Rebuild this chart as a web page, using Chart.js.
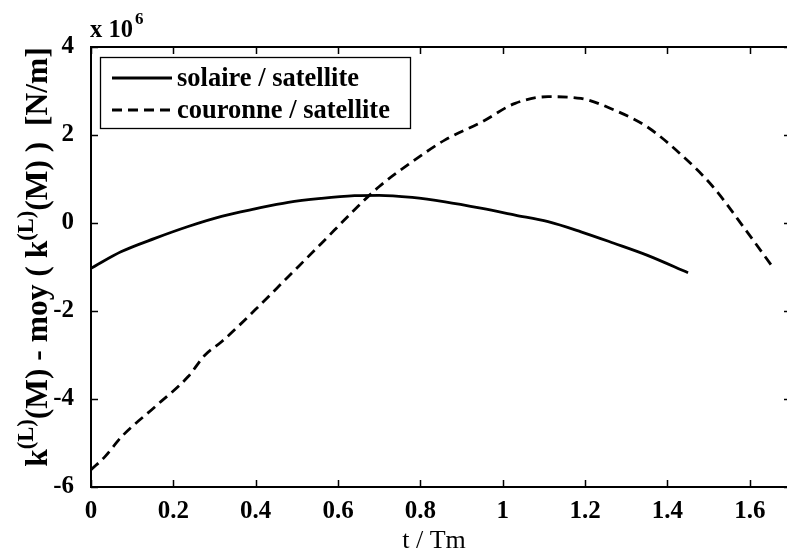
<!DOCTYPE html>
<html><head><meta charset="utf-8">
<script src="https://cdn.jsdelivr.net/npm/chart.js@4/dist/chart.umd.min.js"></script>
<style>html,body{margin:0;padding:0;background:#fff;overflow:hidden;width:787px;height:553px}</style>
</head><body>
<canvas id="c" width="800" height="553" style="width:800px;height:553px;display:block"></canvas>
<script>
// ---- data (values in units of 10^6 N/m) ----
const tSolaire = [0, 0.074, 0.155, 0.236, 0.317, 0.398, 0.479, 0.56, 0.64, 0.70, 0.78, 0.86, 0.95, 1.03, 1.11, 1.19, 1.27, 1.35, 1.45];
const kSolaire = [-1.03, -0.65, -0.35, -0.08, 0.15, 0.32, 0.47, 0.56, 0.62, 0.63, 0.58, 0.48, 0.33, 0.18, 0.03, -0.20, -0.46, -0.73, -1.13];
const tCouronne = [0, 0.034, 0.074, 0.155, 0.236, 0.277, 0.317, 0.398, 0.479, 0.56, 0.64, 0.70, 0.78, 0.86, 0.95, 1.03, 1.11, 1.19, 1.27, 1.35, 1.43, 1.51, 1.59, 1.653];
const kCouronne = [-5.61, -5.31, -4.86, -4.18, -3.49, -3.0, -2.70, -1.98, -1.22, -0.46, 0.30, 0.83, 1.39, 1.89, 2.30, 2.72, 2.87, 2.83, 2.57, 2.19, 1.58, 0.83, -0.16, -0.97];
const seriesLabels = ['solaire / satellite', 'couronne / satellite'];
const xTicks = [0, 0.2, 0.4, 0.6, 0.8, 1, 1.2, 1.4, 1.6];
const yTicks = [-6, -4, -2, 0, 2, 4];
const xRange = [0, 1.7];
const yRange = [-6, 4];
const xTitle = 't / Tm';
const yTitleParts = [['k', 0], ['(L)', 1], ['(M) - moy ( k', 0], ['(L)', 1], ['(M) )  [N/m]', 0]];
const exponentParts = ['x 10', '6'];

const FONT = "'Liberation Serif', 'Times New Roman', serif";

function pts(xs, ys) { return xs.map((x, i) => ({ x: x, y: ys[i] })); }

const framePlugin = {
  id: 'frame',
  afterDraw(chart) {
    const ctx = chart.ctx, a = chart.chartArea;
    const xs = chart.scales.x, ys = chart.scales.y;
    ctx.save();
    ctx.strokeStyle = '#000';
    ctx.lineWidth = 2;
    ctx.strokeRect(a.left, a.top, a.right - a.left, a.bottom - a.top);
    ctx.lineWidth = 1.5;
    const TL = 7;
    ctx.beginPath();
    xTicks.forEach(v => {
      const p = Math.round(xs.getPixelForValue(v)) + 0.5;
      ctx.moveTo(p, a.bottom); ctx.lineTo(p, a.bottom - TL);
      ctx.moveTo(p, a.top); ctx.lineTo(p, a.top + TL);
    });
    yTicks.forEach(v => {
      const p = Math.round(ys.getPixelForValue(v)) + 0.5;
      ctx.moveTo(a.left, p); ctx.lineTo(a.left + TL, p);
      ctx.moveTo(a.right, p); ctx.lineTo(a.right - TL, p);
    });
    ctx.stroke();

    // legend
    const lx = a.left + 9, ly = a.top + 10, lw = 310, lh = 71;
    ctx.fillStyle = '#fff';
    ctx.fillRect(lx, ly, lw, lh);
    ctx.lineWidth = 1.3;
    ctx.strokeRect(lx + 0.5, ly + 0.5, lw, lh);
    ctx.fillStyle = '#000';
    ctx.font = "bold 26.5px " + FONT;
    ctx.textBaseline = 'middle';
    ctx.textAlign = 'left';
    chart.data.datasets.forEach((ds, i) => {
      const yy = ly + 21 + i * 32;
      ctx.lineWidth = ds.borderWidth;
      ctx.setLineDash(ds.borderDash || []);
      ctx.beginPath(); ctx.moveTo(lx + 12, yy); ctx.lineTo(lx + 72, yy); ctx.stroke();
      ctx.setLineDash([]);
      ctx.fillText(ds.label, lx + 77, yy + 1);
    });

    // exponent label
    ctx.textBaseline = 'alphabetic';
    ctx.font = "bold 24.5px " + FONT;
    ctx.fillText(exponentParts[0], a.left - 1, 37);
    const w0 = ctx.measureText(exponentParts[0]).width;
    ctx.font = "bold 17px " + FONT;
    ctx.fillText(exponentParts[1], a.left - 1 + w0 + 2, 24);

    // x title
    ctx.font = "26px " + FONT;
    ctx.textAlign = 'center';
    ctx.fillText(xTitle, 434, 548);

    // y title (rotated, with superscripts)
    const mainF = "bold 31.5px " + FONT, supF = "bold 22.5px " + FONT;
    let total = 0;
    yTitleParts.forEach(([t, s]) => { ctx.font = s ? supF : mainF; total += ctx.measureText(t).width; });
    ctx.translate(47, 257);
    ctx.rotate(-Math.PI / 2);
    ctx.textAlign = 'left';
    let x = -total / 2;
    yTitleParts.forEach(([t, s]) => {
      ctx.font = s ? supF : mainF;
      ctx.fillText(t, x, s ? -14 : 0);
      x += ctx.measureText(t).width;
    });
    ctx.restore();
  }
};

new Chart(document.getElementById('c'), {
  type: 'scatter',
  data: {
    datasets: [
      { label: seriesLabels[0], data: pts(tSolaire, kSolaire), showLine: true, borderColor: '#000', borderWidth: 2.8, pointRadius: 0, cubicInterpolationMode: 'monotone', fill: false },
      { label: seriesLabels[1], data: pts(tCouronne, kCouronne), showLine: true, borderColor: '#000', borderWidth: 2.8, borderDash: [10, 6], pointRadius: 0, cubicInterpolationMode: 'monotone', fill: false }
    ]
  },
  options: {
    responsive: false,
    animation: false,
    devicePixelRatio: 1,
    layout: { padding: { top: 47, right: 9, left: 0, bottom: 0 } },
    plugins: { legend: { display: false }, tooltip: { enabled: false } },
    scales: {
      x: {
        type: 'linear', min: xRange[0], max: xRange[1],
        afterFit: s => { s.height = 66; },
        afterBuildTicks: s => { s.ticks = xTicks.map(v => ({ value: v })); },
        grid: { display: false }, border: { display: false },
        ticks: { color: '#000', padding: 2, maxRotation: 0, autoSkip: false, font: { family: FONT, size: 25, weight: 'bold' }, callback: v => String(+v.toFixed(1)) }
      },
      y: {
        type: 'linear', min: yRange[0], max: yRange[1],
        afterFit: s => { s.width = 91; },
        afterBuildTicks: s => { s.ticks = yTicks.map(v => ({ value: v })); },
        grid: { display: false }, border: { display: false },
        ticks: { color: '#000', padding: 9, autoSkip: false, font: { family: FONT, size: 25, weight: 'bold' }, callback: v => String(v) }
      }
    }
  },
  plugins: [framePlugin]
});
</script>
</body></html>
